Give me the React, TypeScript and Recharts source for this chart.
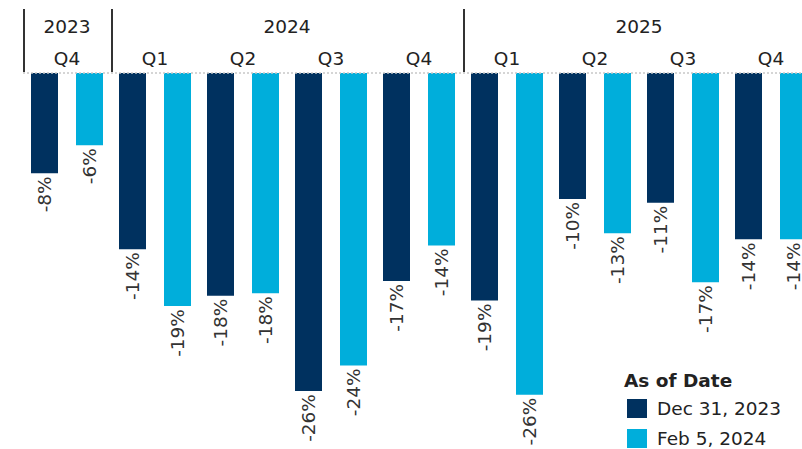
import React from 'react';
import { BarChart, Bar, XAxis, YAxis, ReferenceLine, LabelList } from 'recharts';

const quarters = ['Q4', 'Q1', 'Q2', 'Q3', 'Q4', 'Q1', 'Q2', 'Q3', 'Q4'];
const years = ['2023', '2024', '2024', '2024', '2024', '2025', '2025', '2025', '2025'];
const dec31 = [-8.2, -14.4, -18.2, -26.0, -17.0, -18.6, -10.3, -10.6, -13.6];
const feb5 = [-5.9, -19.05, -18.0, -23.9, -14.1, -26.3, -13.1, -17.1, -13.6];
const seriesNames = ['Dec 31, 2023', 'Feb 5, 2024'];
const legendTitle = 'As of Date';

const DARK = '#00315F';
const LIGHT = '#00AEDB';
const FONT = '"DejaVu Sans", Verdana, sans-serif';
const FS = 18.5;

const CHART_W = 815;
const CHART_H = 449;
const M_LEFT = 23;
const BAND = (CHART_W - M_LEFT) / quarters.length;

const data = quarters.map((q, i) => ({
  key: `${years[i]}-${q}`,
  q,
  year: years[i],
  dec: dec31[i],
  feb: feb5[i],
}));

const yearCount = (y: string) => years.filter((v) => v === y).length;

const HeaderTick = (props: any) => {
  const { x, index } = props;
  const d = data[index];
  if (!d) return null;
  const first = index === 0 || years[index - 1] !== d.year;
  return (
    <g>
      <text x={x} y={58} textAnchor="middle" dominantBaseline="central" fontSize={FS} fill="#222" fontFamily={FONT}>
        {d.q}
      </text>
      {first && (
        <g>
          <line x1={x - BAND / 2 + 1} x2={x - BAND / 2 + 1} y1={9} y2={72} stroke="#333" strokeWidth={2} />
          <text
            x={x + ((yearCount(d.year) - 1) * BAND) / 2}
            y={26}
            textAnchor="middle"
            dominantBaseline="central"
            fontSize={FS}
            fill="#222"
            fontFamily={FONT}
          >
            {d.year}
          </text>
        </g>
      )}
    </g>
  );
};

const ValueLabel = (props: any) => {
  const { x, y, width, height, value } = props;
  const bottom = Math.max(y, y + height);
  const cx = x + width / 2;
  const ty = bottom + 3;
  return (
    <text
      x={cx}
      y={ty}
      transform={`rotate(-90 ${cx} ${ty})`}
      textAnchor="end"
      dominantBaseline="central"
      fontSize={FS}
      fill="#333"
      fontFamily={FONT}
    >
      {`${Math.round(value)}%`}
    </text>
  );
};

const LegendBox = () => (
  <div style={{ position: 'absolute', left: 624, top: 369, fontFamily: FONT, color: '#222' }}>
    <div style={{ fontWeight: 'bold', fontSize: FS, lineHeight: '24px' }}>{legendTitle}</div>
    {[DARK, LIGHT].map((c, i) => (
      <div key={i} style={{ display: 'flex', alignItems: 'center', height: 30, marginLeft: 3 }}>
        <div style={{ width: 20, height: 19, background: c, marginRight: 10 }} />
        <span style={{ fontSize: FS }}>{seriesNames[i]}</span>
      </div>
    ))}
  </div>
);

export default function App() {
  return (
    <div
      style={{
        position: 'fixed',
        left: 0,
        top: 0,
        width: 802,
        height: 449,
        overflow: 'hidden',
        background: '#fff',
        fontFamily: FONT,
      }}
    >
      <BarChart
        width={CHART_W}
        height={CHART_H}
        data={data}
        margin={{ top: 0, right: 0, bottom: 9, left: M_LEFT }}
        barCategoryGap={8}
        barGap={18}
      >
        <XAxis
          dataKey="key"
          orientation="top"
          height={73}
          axisLine={false}
          tickLine={false}
          interval={0}
          tick={<HeaderTick />}
        />
        <YAxis hide domain={[-30, 0]} />
        <ReferenceLine y={0} stroke="#c8c8c8" strokeDasharray="2 2" strokeWidth={1.5} />
        <Bar dataKey="dec" name={seriesNames[0]} fill={DARK} barSize={27} isAnimationActive={false}>
          <LabelList dataKey="dec" content={<ValueLabel />} />
        </Bar>
        <Bar dataKey="feb" name={seriesNames[1]} fill={LIGHT} barSize={27} isAnimationActive={false}>
          <LabelList dataKey="feb" content={<ValueLabel />} />
        </Bar>
      </BarChart>
      <LegendBox />
    </div>
  );
}
